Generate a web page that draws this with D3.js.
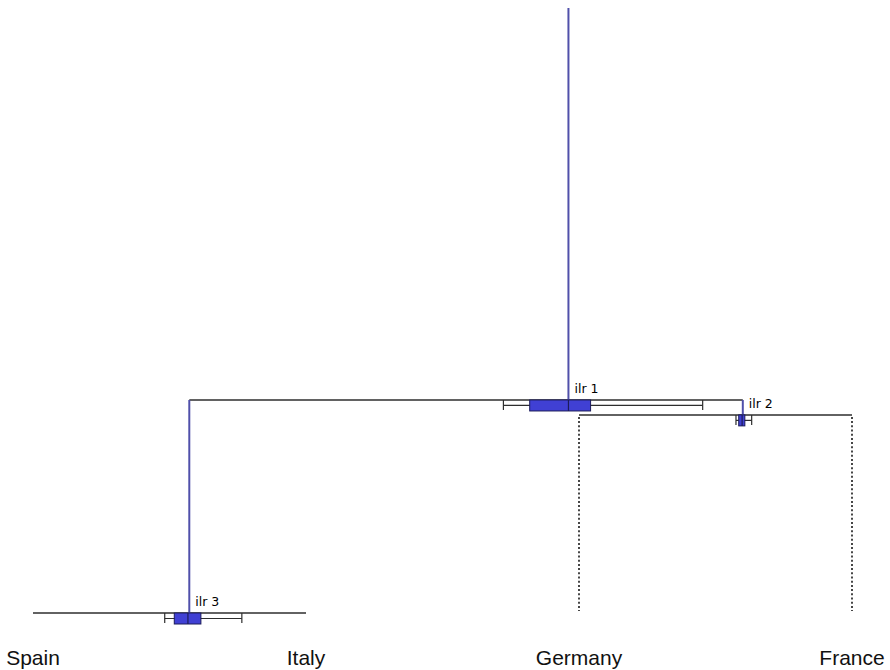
<!DOCTYPE html>
<html>
<head>
<meta charset="utf-8">
<script src="https://cdn.jsdelivr.net/npm/d3@7"></script>
<style>
  html, body { margin: 0; padding: 0; background: #fff; }
  svg { display: block; }
</style>
</head>
<body>
<svg id="chart" width="890" height="670"></svg>
<script>
// Parts of the composition (leaves of the dendrogram)
const leaves = ["Spain", "Italy", "Germany", "France"];

// Balances (ilr coordinates) and the two groups each one contrasts
const balances   = ["ilr 1", "ilr 2", "ilr 3"];
const balLeft    = ["ilr 3", "Germany", "Spain"];
const balRight   = ["ilr 2", "France", "Italy"];

// Balance statistics
const balVariance = [0.92, 0.035, 0.50];
const balMean     = [0.74, 0.40, 0.29];
const balMedian   = [0.74, 0.39, 0.27];
const balQ1       = [0.46, 0.34, 0.07];
const balQ3       = [0.90, 0.43, 0.46];
const balLo       = [0.27, 0.30, -0.07];
const balHi       = [1.71, 0.53, 1.06];

// Common axis range shared by every balance segment
const balRange = [-2, 2];

const svg = d3.select("#chart");

const xLeaf = d3.scalePoint().domain(leaves).range([33, 852]);

// Depth of each node = cumulative variance from the root
const idx = name => balances.indexOf(name);
const depth = {};
(function setDepth(name, d) {
  const i = idx(name);
  if (i < 0) return;
  depth[name] = d + balVariance[i];
  setDepth(balLeft[i], depth[name]);
  setDepth(balRight[i], depth[name]);
})("ilr 1", 0);
const maxDepth = d3.max(Object.values(depth));
const y = d3.scaleLinear().domain([0, maxDepth]).range([8, 613]);

// Horizontal position where each node hangs from its parent
const attachX = {};
const segScale = {};
function place(name) {
  const i = idx(name);
  if (i < 0) { attachX[name] = xLeaf(name); return attachX[name]; }
  const xl = place(balLeft[i]);
  const xr = place(balRight[i]);
  segScale[name] = d3.scaleLinear().domain(balRange).range([xl, xr]);
  attachX[name] = segScale[name](balMean[i]);
  return attachX[name];
}
place("ilr 1");

const parentOf = {};
balances.forEach((b, i) => { parentOf[balLeft[i]] = b; parentOf[balRight[i]] = b; });

const lineCol = "#2e2e2e";
const stemCol = "#5050aa";
const boxFill = "#4040d4";
const boxStroke = "#1c1c5a";
const boxH = 11;

// Dotted drops from a node to leaves that sit above the base line
leaves.forEach(leaf => {
  const p = parentOf[leaf];
  if (depth[p] < maxDepth) {
    svg.append("line")
      .attr("x1", xLeaf(leaf)).attr("x2", xLeaf(leaf))
      .attr("y1", y(depth[p]) + 2).attr("y2", y(maxDepth) - 2)
      .attr("stroke", "#333").attr("stroke-width", 1.8)
      .attr("stroke-dasharray", "2,2.2");
  }
});

// Horizontal segments for each balance
balances.forEach((b, i) => {
  const s = segScale[b];
  svg.append("line")
    .attr("x1", s.range()[0]).attr("x2", s.range()[1])
    .attr("y1", y(depth[b])).attr("y2", y(depth[b]))
    .attr("stroke", lineCol).attr("stroke-width", 1.5);
});

// Vertical stems (length = variance of the balance)
balances.forEach((b, i) => {
  const p = parentOf[b];
  const top = p ? depth[p] : 0;
  svg.append("line")
    .attr("x1", attachX[b]).attr("x2", attachX[b])
    .attr("y1", y(top)).attr("y2", y(depth[b]))
    .attr("stroke", stemCol).attr("stroke-width", 2);
});

// Box plots along each segment
balances.forEach((b, i) => {
  const s = segScale[b];
  const y0 = y(depth[b]);
  const g = svg.append("g");
  g.append("line")
    .attr("x1", s(balLo[i])).attr("x2", s(balHi[i]))
    .attr("y1", y0 + boxH / 2).attr("y2", y0 + boxH / 2)
    .attr("stroke", lineCol).attr("stroke-width", 1.2);
  [balLo[i], balHi[i]].forEach(v => {
    g.append("line")
      .attr("x1", s(v)).attr("x2", s(v))
      .attr("y1", y0).attr("y2", y0 + boxH - 1)
      .attr("stroke", lineCol).attr("stroke-width", 1.2);
  });
  g.append("rect")
    .attr("x", s(balQ1[i])).attr("y", y0)
    .attr("width", s(balQ3[i]) - s(balQ1[i])).attr("height", boxH)
    .attr("fill", boxFill).attr("stroke", boxStroke).attr("stroke-width", 1);
  g.append("line")
    .attr("x1", s(balMedian[i])).attr("x2", s(balMedian[i]))
    .attr("y1", y0).attr("y2", y0 + boxH)
    .attr("stroke", boxStroke).attr("stroke-width", 1.2);
  g.append("text")
    .attr("x", attachX[b] + 6).attr("y", y0 - 7)
    .attr("font-family", "DejaVu Sans, Verdana, sans-serif")
    .attr("font-size", 12.5).attr("fill", "#000")
    .text(b);
});

// Leaf labels
svg.selectAll("text.leaf").data(leaves).join("text")
  .attr("class", "leaf")
  .attr("x", d => xLeaf(d)).attr("y", 665)
  .attr("text-anchor", "middle")
  .attr("font-family", "Liberation Sans, Arial, sans-serif")
  .attr("font-size", 21).attr("fill", "#111")
  .text(d => d);
</script>
</body>
</html>
